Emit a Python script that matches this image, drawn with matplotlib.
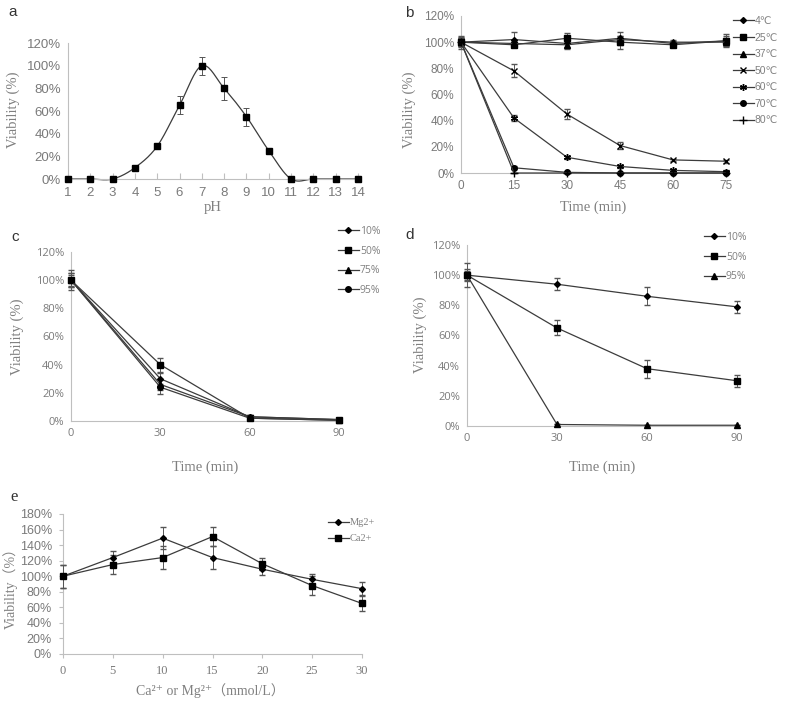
import numpy as np
import matplotlib
matplotlib.use("Agg")
import matplotlib.pyplot as plt

W, H = 787, 702

# ---- data ----
ph = [1, 2, 3, 4, 5, 6, 7, 8, 9, 10, 11, 12, 13, 14]
ph_val = [0, 0, 0, 10, 29, 65, 100, 80, 55, 25, 0, 0, 0, 0]
ph_err = [0, 0, 0, 1, 1, 8, 8, 10, 8, 1, 0, 0, 0, 0]

temp_time = [0, 15, 30, 45, 60, 75]
temp_labels = ["4℃", "25℃", "37℃", "50℃", "60℃", "70℃", "80℃"]
temp_vals = [
    [100, 102, 99, 103, 99, 101],
    [100, 98, 103, 100, 98, 101],
    [100, 99, 98, 102, 100, 100],
    [100, 78, 45, 21, 10, 9],
    [100, 42, 12, 5, 2, 1],
    [100, 4, 0.5, 0, 0, 0],
    [100, 0, 0, 0, 0, 0],
]
temp_errs = [
    [5, 6, 3, 5, 2, 5],
    [4, 2, 4, 5, 2, 4],
    [3, 3, 3, 3, 2, 3],
    [3, 5, 4, 3, 1, 1],
    [3, 2, 1, 1, 1, 1],
    [2, 1, 0, 0, 0, 0],
    [2, 0, 0, 0, 0, 0],
]
temp_markers = ["D", "s", "^", "x", (6, 2, 0), "o", "+"]
temp_msize = [3, 5, 4, 5, 5, 4, 6]

hum_time = [0, 30, 60, 90]
hum_labels_c = ["10%", "50%", "75%", "95%"]
hum_vals_c = [
    [100, 30, 3, 1],
    [100, 40, 2, 0.5],
    [100, 26, 3, 1],
    [100, 24, 2, 0.5],
]
hum_errs_c = [
    [7, 4, 1, 0],
    [4, 5, 1, 0],
    [5, 4, 1, 0],
    [5, 5, 1, 0],
]
c_markers = ["D", "s", "^", "o"]
c_msize = [3, 5, 4, 4]

hum_labels_d = ["10%", "50%", "95%"]
hum_vals_d = [
    [100, 94, 86, 79],
    [100, 65, 38, 30],
    [100, 1, 0.5, 0.5],
]
hum_errs_d = [
    [8, 4, 6, 4],
    [4, 5, 6, 4],
    [3, 0, 0, 0],
]
d_markers = ["D", "s", "^"]
d_msize = [3, 5, 4]

ion_conc = [0, 5, 10, 15, 20, 25, 30]
ion_labels = ["Mg2+", "Ca2+"]
ion_vals = [
    [100, 124, 149, 124, 109, 96, 84],
    [100, 115, 124, 151, 116, 88, 65],
]
ion_errs = [
    [15, 8, 14, 15, 8, 7, 8],
    [15, 12, 15, 12, 8, 12, 10],
]
e_markers = ["D", "s"]
e_msize = [3, 5]

# ---- style ----
LINE = "#3c3c3c"
SPINE = "#bfbfbf"
TXT = "#808080"
SERIF = ["Liberation Serif", "DejaVu Serif", "Noto Sans CJK SC"]
SANS = ["Liberation Sans", "DejaVu Sans", "Noto Sans CJK SC"]
OPEN = ["Open Sans", "DejaVu Sans", "Noto Sans CJK SC"]

fig = plt.figure(figsize=(W / 100, H / 100), dpi=100)


def ax_px(left, right, bottom, top):
    return fig.add_axes([left / W, 1 - bottom / H, (right - left) / W, (bottom - top) / H])


def ftext(x, y, s, **kw):
    fig.text(x / W, 1 - y / H, s, **kw)


def style(ax, xt, yt, ymax, tick_font=SANS, tsize=8.5, ticks=False):
    for s in ["top", "right"]:
        ax.spines[s].set_visible(False)
    for s in ["left", "bottom"]:
        ax.spines[s].set_color(SPINE)
        ax.spines[s].set_linewidth(0.8)
    ax.set_xticks(xt)
    ax.set_yticks(yt)
    ax.set_yticklabels([f"{v}%" for v in yt])
    ax.set_ylim(0, ymax)
    ax.tick_params(colors=SPINE, labelcolor="#7a7a7a", labelsize=tsize,
                   length=3 if ticks else 0, width=0.8, pad=5)
    for lab in ax.get_xticklabels() + ax.get_yticklabels():
        lab.set_family(tick_font)


def series(ax, x, y, e, m, ms, label=None):
    ax.errorbar(x, y, yerr=e, color=LINE, lw=0.9, marker=m, ms=ms, mfc="black",
                mec="black", mew=1.0, ecolor="#555555", elinewidth=0.7, capsize=2,
                capthick=0.7, label=label, clip_on=False, zorder=3)


def legend(ax, x0, y0, y1, fs=8, font=SANS):
    handles, labels = ax.get_legend_handles_labels()
    n = len(labels)
    handles = [h[0] for h in handles]
    leg = ax.legend(handles, labels, loc="upper left",
                    bbox_to_anchor=(x0 / W, 1 - y0 / H), bbox_transform=fig.transFigure,
                    frameon=False, fontsize=fs, handlelength=2.0, handletextpad=0.1,
                    borderpad=0, borderaxespad=0,
                    labelspacing=(y1 - y0) / max(n - 1, 1) / (fs * 1.389) - 1)
    for t in leg.get_texts():
        t.set_color(TXT)
        t.set_family(font)


def catmull(x, y, n=20):
    # smooth line through the points (Excel-style smoothed line)
    x = np.asarray(x, float)
    y = np.asarray(y, float)
    px = np.r_[2 * x[0] - x[1], x, 2 * x[-1] - x[-2]]
    py = np.r_[2 * y[0] - y[1], y, 2 * y[-1] - y[-2]]
    t = np.linspace(0, 1, n)[:-1]
    xs, ys = [], []
    for i in range(1, len(px) - 2):
        for arr, out in ((px, xs), (py, ys)):
            p0, p1, p2, p3 = arr[i - 1:i + 3]
            out.extend(0.5 * (2 * p1 + (-p0 + p2) * t + (2 * p0 - 5 * p1 + 4 * p2 - p3) * t ** 2
                              + (-p0 + 3 * p1 - 3 * p2 + p3) * t ** 3))
    xs.append(x[-1])
    ys.append(y[-1])
    return np.array(xs), np.array(ys)


# ---- a ----
ax = ax_px(68, 358, 179, 43)
sx, sy = catmull(ph, ph_val)
ax.plot(sx, sy, color=LINE, lw=0.9, clip_on=False)
ax.errorbar(ph, ph_val, yerr=ph_err, fmt="s", ms=5, mfc="black", mec="black",
            ecolor="#555555", elinewidth=0.7, capsize=2, capthick=0.7, clip_on=False, zorder=3)
ax.set_xlim(1, 14)
style(ax, ph, range(0, 121, 20), 120, tsize=9.5)
ax.tick_params(axis="x", direction="in", length=4, pad=6)
ftext(8, 12, "a", fontsize=11, family=SANS, color="#333333", va="center")
ftext(13, 110, "Viability (%)", rotation=90, fontsize=10.5, family=SERIF, color=TXT,
      ha="center", va="center")
ftext(213, 208, "pH", fontsize=10.5, family=SERIF, color=TXT, ha="center", va="center")

# ---- b ----
ax = ax_px(461, 726, 173, 16)
for v, e, lab, m, ms in zip(temp_vals, temp_errs, temp_labels, temp_markers, temp_msize):
    series(ax, temp_time, v, e, m, ms, lab)
ax.set_xlim(0, 75)
style(ax, temp_time, range(0, 121, 20), 120)
legend(ax, 733, 16, 118, fs=7.5)
ftext(405, 13, "b", fontsize=11, family=SANS, color="#333333", va="center")
ftext(409, 110, "Viability (%)", rotation=90, fontsize=10.5, family=SERIF, color=TXT,
      ha="center", va="center")
ftext(593, 207, "Time (min)", fontsize=10.5, family=SERIF, color=TXT, ha="center", va="center")

# ---- c ----
ax = ax_px(71, 339, 421, 252)
for v, e, lab, m, ms in zip(hum_vals_c, hum_errs_c, hum_labels_c, c_markers, c_msize):
    series(ax, hum_time, v, e, m, ms, lab)
ax.set_xlim(0, 90)
style(ax, hum_time, range(0, 121, 20), 120, tick_font=OPEN, tsize=8)
legend(ax, 338, 226, 283, fs=7.5, font=OPEN)
ftext(11, 237, "c", fontsize=11, family=SANS, color="#333333", va="center")
ftext(17, 337, "Viability (%)", rotation=90, fontsize=10.5, family=SERIF, color=TXT,
      ha="center", va="center")
ftext(205, 467, "Time (min)", fontsize=10.5, family=SERIF, color=TXT, ha="center", va="center")

# ---- d ----
ax = ax_px(467, 737, 426, 245)
for v, e, lab, m, ms in zip(hum_vals_d, hum_errs_d, hum_labels_d, d_markers, d_msize):
    series(ax, hum_time, v, e, m, ms, lab)
ax.set_xlim(0, 90)
style(ax, hum_time, range(0, 121, 20), 120, tick_font=OPEN, tsize=8)
legend(ax, 704, 232, 270, fs=7.5, font=OPEN)
ftext(405, 235, "d", fontsize=11, family=SANS, color="#333333", va="center")
ftext(420, 335, "Viability (%)", rotation=90, fontsize=10.5, family=SERIF, color=TXT,
      ha="center", va="center")
ftext(602, 467, "Time (min)", fontsize=10.5, family=SERIF, color=TXT, ha="center", va="center")

# ---- e ----
ax = ax_px(63, 362, 654, 514)
for v, e, lab, m, ms in zip(ion_vals, ion_errs, ion_labels, e_markers, e_msize):
    series(ax, ion_conc, v, e, m, ms, lab)
ax.set_xlim(0, 30)
style(ax, ion_conc, range(0, 181, 20), 180, tsize=9, ticks=True)
for lab in ax.get_xticklabels():
    lab.set_family(SERIF)
legend(ax, 328, 518, 535, fs=7.5, font=SERIF)
ftext(10, 497, "e", fontsize=12, family=SERIF, color="#333333", va="center")
ftext(10, 585, "Viability（%）", rotation=90, fontsize=10, family=SERIF, color=TXT,
      ha="center", va="center")
ftext(210, 691, "Ca²⁺ or Mg²⁺（mmol/L）", fontsize=10, family=SERIF, color=TXT,
      ha="center", va="center")

fig.savefig("out.png", dpi=100)
